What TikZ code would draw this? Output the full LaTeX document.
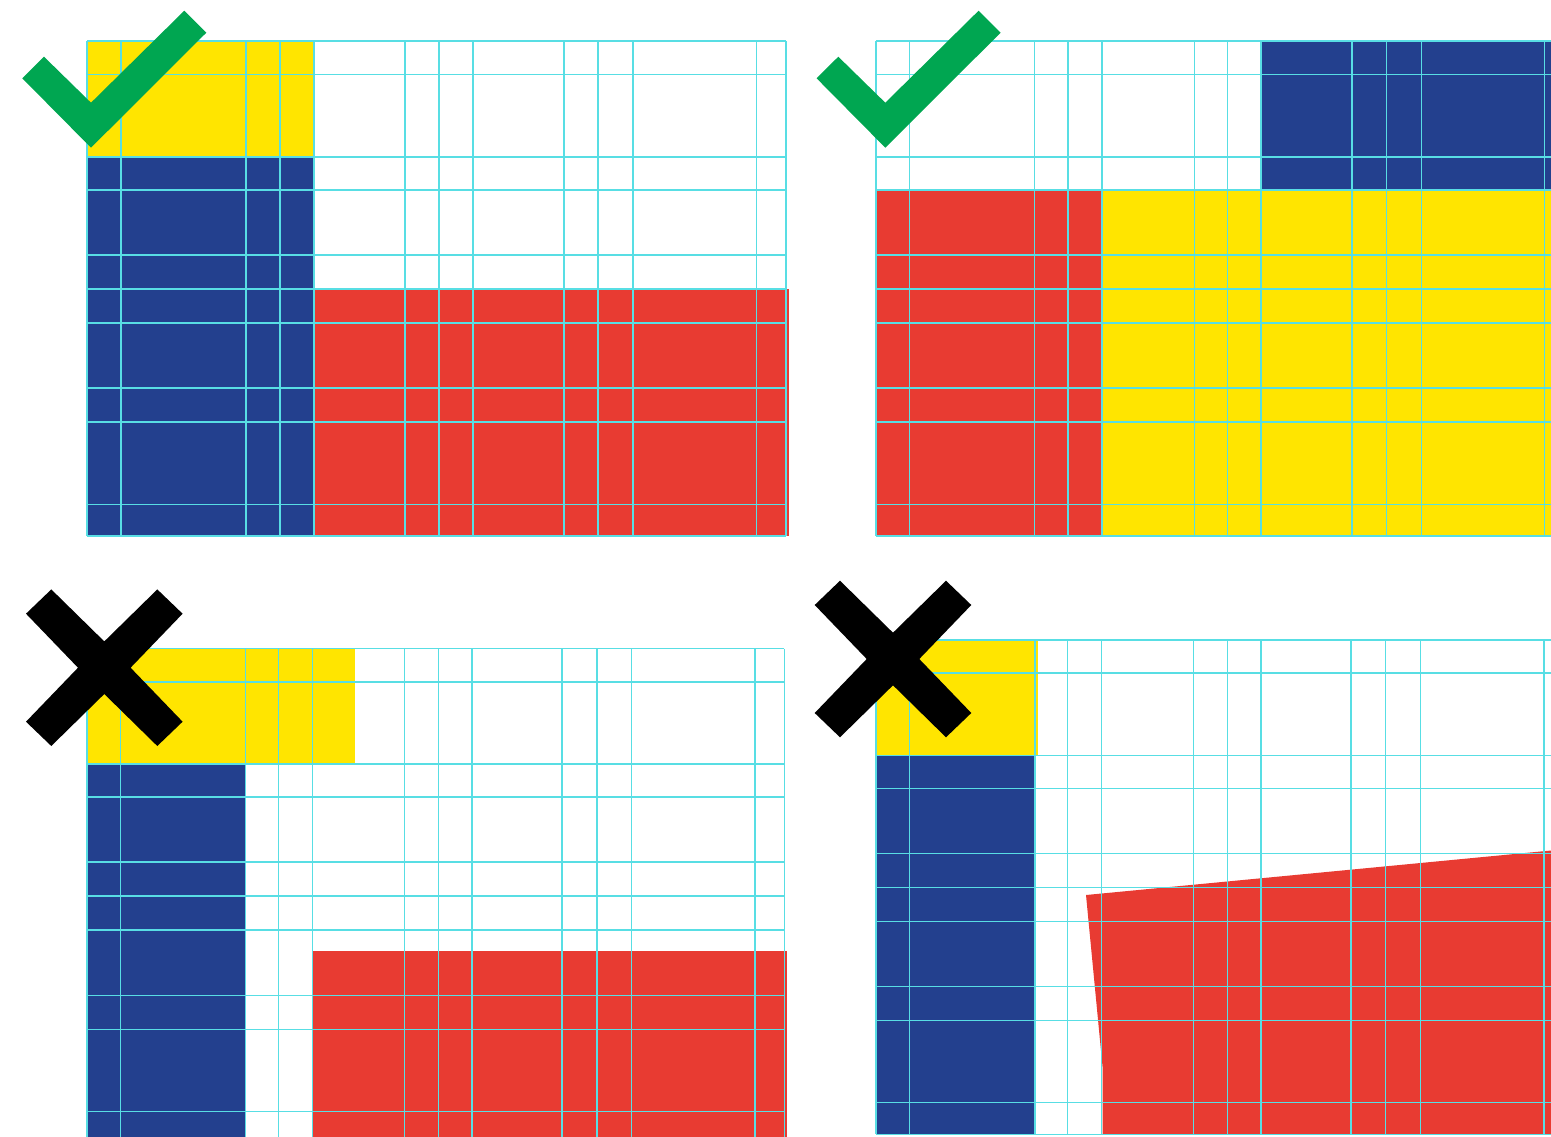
\documentclass[tikz,border=0pt]{standalone}
\definecolor{gridc}{RGB}{88,222,228}
\definecolor{myyellow}{RGB}{255,229,0}
\definecolor{myblue}{RGB}{35,64,142}
\definecolor{myred}{RGB}{232,59,50}
\definecolor{mygreen}{RGB}{0,166,81}
\tikzset{
  gridline/.style={draw=gridc, line width=1.3pt},
  yel/.style={fill=myyellow},
  blu/.style={fill=myblue},
  rd/.style={fill=myred},
  checkmark/.style={fill=mygreen},
  crossmark/.style={fill=black},
}
\begin{document}
\begin{tikzpicture}[x=1pt,y=-1pt]
\useasboundingbox (0,0) rectangle (1551,1136);
\clip (0,0) rectangle (1551,1136);

% ---------- Panel 1 (top-left) ----------
\fill[yel] (87,41) rectangle (315,157);
\fill[blu] (87,157) rectangle (315,536);
\fill[rd] (314,289) rectangle (789,536);
\foreach \x in {87,121,246,280,314,405,439,473,564,598,633,756.5,786}
  \draw[gridline] (\x,41) -- (\x,536);
\foreach \y in {41,74.5,157,190,255,289,323,388,422,504.5,536}
  \draw[gridline] (87,\y) -- (786,\y);

% ---------- Panel 2 (top-right) ----------
\fill[blu] (1260.5,41) rectangle (1551,190);
\fill[rd] (876,190) rectangle (1102,536);
\fill[yel] (1102,190) rectangle (1551,536);
\foreach \x in {876,909.7,1034.7,1068,1102,1194.3,1227.7,1261,1352,1386.3,1421.3,1544.7}
  \draw[gridline] (\x,41) -- (\x,536);
\foreach \y in {41,74.5,157,190,255,289,323,388,422,504.5,536}
  \draw[gridline] (876,\y) -- (1551,\y);

% ---------- Panel 3 (bottom-left) ----------
\fill[yel] (87,648.7) rectangle (355,764);
\fill[blu] (87,764) rectangle (245.5,1140);
\fill[rd] (312.7,951) rectangle (787,1140);
\foreach \x in {87,120.5,245.7,278.7,312.3,404.3,438.5,472,562,597,631.7,755,784.3}
  \draw[gridline] (\x,648.7) -- (\x,1140);
\foreach \y in {648.7,682,764,797,862,896,930,995.7,1029.3,1111.3}
  \draw[gridline] (87,\y) -- (784.3,\y);

% ---------- Panel 4 (bottom-right) ----------
\fill[yel] (876,640) rectangle (1037.5,755.3);
\fill[blu] (876,755.3) rectangle (1035,1134.3);
\fill[rd] (1086,895) -- (1551,850.5) -- (1551,1134.3) -- (1102.7,1134.3)
  -- (1102.7,1068.5) -- cycle;
\foreach \x in {876,909.5,1035,1067.5,1101.7,1193.5,1227.7,1261,1351,1385.3,1420.3,1544}
  \draw[gridline] (\x,640) -- (\x,1134.3);
\foreach \y in {640,673,755.3,788.3,853.3,887.3,921.2,986.7,1020.5,1102.5,1134.3}
  \draw[gridline] (876,\y) -- (1551,\y);

% ---------- Check marks ----------
\foreach \dx in {0,794.3}
  \fill[checkmark, shift={(\dx,0)}] (22.3,78.3) -- (44,56.7) -- (91,102.7)
    -- (184.3,10.7) -- (206.3,32.7) -- (91,147.7) -- cycle;

% ---------- Cross marks ----------
\foreach \cx/\cy in {104.3/667.7, 893/659}
  \fill[crossmark, shift={(\cx,\cy)}]
    (-78.3,-54) -- (-53,-78.3) -- (0,-26.3) -- (53,-78.3) -- (78.3,-54) -- (26.3,0)
    -- (78.3,54) -- (53,78.3) -- (0,26.3) -- (-53,78.3) -- (-78.3,54) -- (-26.3,0) -- cycle;
\end{tikzpicture}
\end{document}
